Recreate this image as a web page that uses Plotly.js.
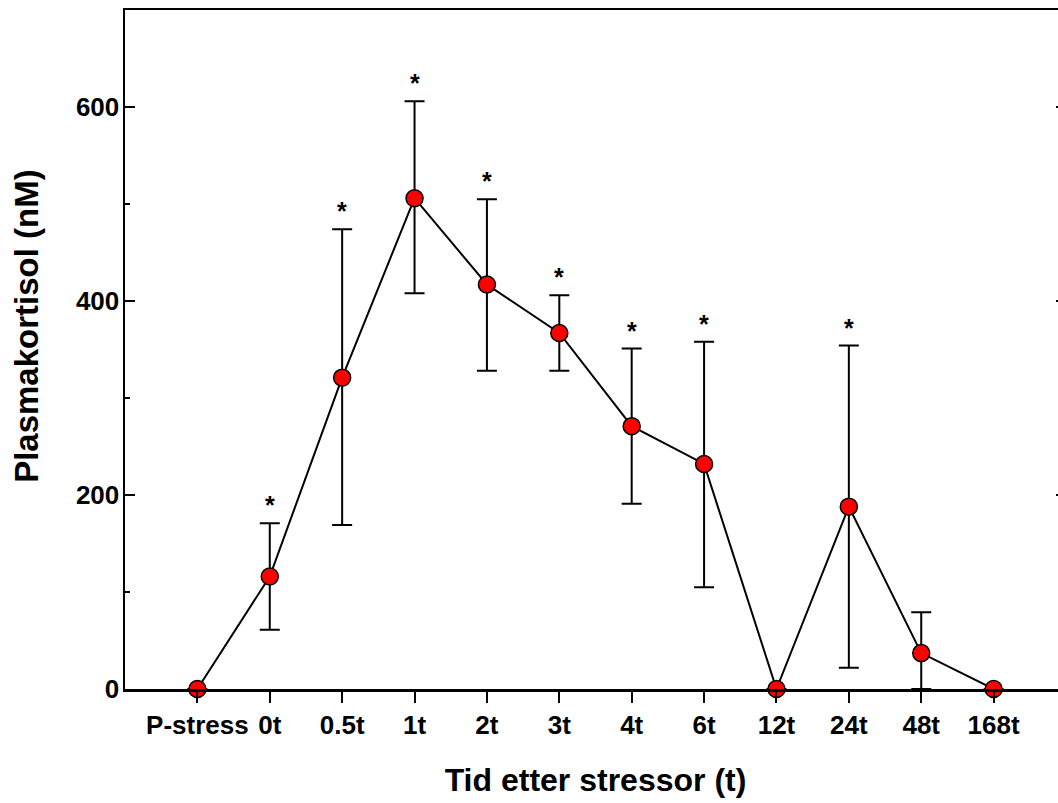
<!DOCTYPE html>
<html>
<head>
<meta charset="utf-8">
<script src="https://cdn.plot.ly/plotly-3.0.1.min.js"></script>
<style>
html,body{margin:0;padding:0;overflow:hidden;background:#fff;}
#chart{width:1080px;height:803px;}
</style>
</head>
<body>
<div id="chart"></div>
<script>
var categories = ["P-stress", "0t", "0.5t", "1t", "2t", "3t", "4t", "6t", "12t", "24t", "48t", "168t"];
var cortisol   = [0, 116, 321, 506, 417, 367, 271, 232, 0, 188, 37, 0];
var errUp      = [0, 55, 153, 100, 88, 39, 80, 126, 0, 166, 42, 0];
var errDown    = [0, 55, 152, 98, 89, 39, 80, 127, 0, 166, 37, 0];
var significant = [false, true, true, true, true, true, true, true, false, true, false, false];
var yTicks = [0, 200, 400, 600];

var xIdx = categories.map(function(c, i){ return i; });
var FONT = 'Liberation Sans, Arial, sans-serif';

var trace = {
  x: xIdx,
  y: cortisol,
  type: 'scatter',
  mode: 'lines+markers',
  line: {color: '#000', width: 2},
  marker: {color: '#ff0000', size: 17, line: {color: '#000', width: 1.5}},
  error_y: {type: 'data', symmetric: false, array: errUp, arrayminus: errDown,
            color: '#000', thickness: 2, width: 10},
  cliponaxis: false,
  hoverinfo: 'skip'
};

var annotations = [];
categories.forEach(function(c, i){
  if (significant[i]) {
    annotations.push({
      x: i, y: cortisol[i] + errUp[i], xref: 'x', yref: 'y',
      text: '*', showarrow: false, yanchor: 'bottom', yshift: 2,
      font: {family: FONT, size: 25, color: '#000', weight: 'bold'}
    });
  }
});
annotations.push({
  xref: 'paper', yref: 'paper', x: -0.104, y: 0.535,
  xanchor: 'center', yanchor: 'middle', textangle: -90,
  text: 'Plasmakortisol (nM)', showarrow: false,
  font: {family: FONT, size: 33, color: '#000', weight: 'bold'}
});

var layout = {
  width: 1080, height: 803,
  margin: {l: 125, r: 14, t: 10, b: 114},
  paper_bgcolor: '#fff', plot_bgcolor: '#fff',
  showlegend: false,
  font: {family: FONT, color: '#000'},
  xaxis: {
    range: [-1, 12],
    tickmode: 'array', tickvals: xIdx, ticktext: categories,
    ticks: 'outside', ticklen: 11, tickwidth: 2, tickcolor: '#000',
    showline: true, linecolor: '#000', linewidth: 2.5, mirror: true,
    showgrid: false, zeroline: false,
    tickfont: {size: 26, weight: 'bold'},
    title: {text: 'Tid etter stressor (t)', font: {size: 32, weight: 'bold'}, standoff: 30}
  },
  yaxis: {
    range: [0, 700],
    tickmode: 'array', tickvals: yTicks,
    ticks: 'inside', ticklen: 10, tickwidth: 2, tickcolor: '#000',
    minor: {dtick: 100, tick0: 0, ticks: 'inside', ticklen: 5, tickwidth: 2, tickcolor: '#000', showgrid: false},
    showline: true, linecolor: '#000', linewidth: 2.5, mirror: 'ticks',
    showgrid: false, zeroline: false,
    tickfont: {size: 26, weight: 'bold'},
    ticklabelstandoff: -2
  },
  annotations: annotations
};

Plotly.newPlot('chart', [trace], layout, {displayModeBar: false, staticPlot: true});
</script>
</body>
</html>
